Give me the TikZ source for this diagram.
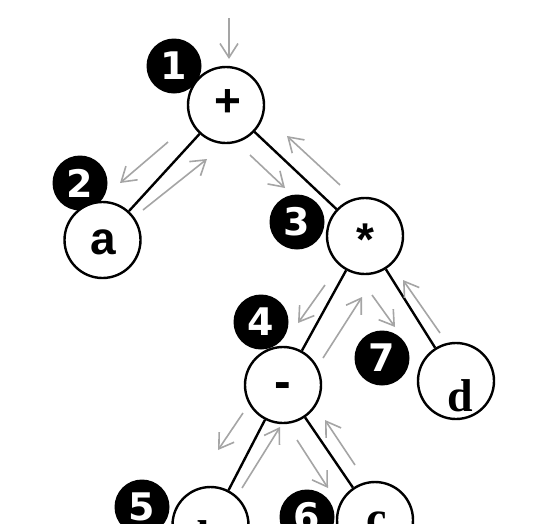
\documentclass[tikz,border=0pt]{standalone}
\usepackage{fontspec}
\setmainfont{Liberation Serif}
\newfontfamily\symfont{Liberation Sans}
\newfontfamily\numfont{DejaVu Sans}
\usetikzlibrary{arrows.meta}
\definecolor{arrowgray}{RGB}{165,165,165}
\begin{document}
\begin{tikzpicture}[x=1pt,y=-1pt,
  vertex/.style={circle,draw=black,line width=2.4pt,fill=white,minimum size=76pt,inner sep=0pt},
  badge/.style={circle,fill=black,minimum size=55pt,inner sep=0pt,text=white,
    font=\numfont\bfseries\fontsize{38}{38}\selectfont},
  opsym/.style={inner sep=0pt,font=\symfont\bfseries\fontsize{46}{46}\selectfont},
  sanslbl/.style={inner sep=0pt,font=\symfont\bfseries\fontsize{46}{46}\selectfont},
  seriflbl/.style={inner sep=0pt,font=\bfseries\fontsize{46}{46}\selectfont},
  edge/.style={line width=2.4pt},
  flow/.style={draw=arrowgray,line width=1.6pt,
    -{Straight Barb[length=14pt,width=18pt,line width=1.6pt]}}]
\useasboundingbox (0,0) rectangle (548,523);
\clip (0,0) rectangle (548,523);
\fill[white] (0,0) rectangle (548,523);

% badges
\node[badge] (n1) at (174,66) {1};
\node[badge] (n2) at (80,183) {2};
\node[badge] (n3) at (297,222) {3};
\node[badge] (n4) at (261,322) {4};
\node[badge] (n5) at (142,507) {5};
\node[badge] (n6) at (307,517) {6};
\node[badge] (n7) at (382,358) {7};

% tree nodes
\node[vertex] (plus) at (226,105) {};
\node[vertex] (a) at (102.5,240) {};
\node[vertex] (times) at (365,236) {};
\node[vertex] (minus) at (283,385) {};
\node[vertex] (d) at (456,381) {};
\node[vertex] (b) at (210.5,525) {};
\node[vertex] (c) at (375,520) {};

% labels
\node[opsym] (lplus) at (228,103) {+};
\node[opsym] (ltimes) at (365,240) {*};
\node[opsym,font=\symfont\bfseries\fontsize{50}{50}\selectfont] (lminus) at (283,391) {-};
\node[sanslbl] (la) at (103,242.5) {a};
\node[seriflbl] (ld) at (460,396) {d};
\node[seriflbl] (lb) at (210,537) {b};
\node[seriflbl] (lc) at (377,523) {c};

% edges
\draw[edge] (plus) -- (a);
\draw[edge] (plus) -- (times);
\draw[edge] (times) -- (minus);
\draw[edge] (times) -- (d);
\draw[edge] (minus) -- (b);
\draw[edge] (minus) -- (c);

% traversal arrows
\coordinate (s0) at (229,18);   \coordinate (e0) at (229,59);
\coordinate (s1) at (168,142);  \coordinate (e1) at (120,183);
\coordinate (s2) at (143,210);  \coordinate (e2) at (207,159);
\coordinate (s3) at (250,155);  \coordinate (e3) at (285,188);
\coordinate (s4) at (340,185);  \coordinate (e4) at (287,136);
\coordinate (s5) at (325,285);  \coordinate (e5) at (298,323);
\coordinate (s6) at (323,358);  \coordinate (e6) at (362,297);
\coordinate (s7) at (372,295);  \coordinate (e7) at (395,327);
\coordinate (s8) at (440,333);  \coordinate (e8) at (403,280);
\coordinate (s9) at (243,413);  \coordinate (e9) at (218,450);
\coordinate (s10) at (242,488); \coordinate (e10) at (280,427);
\coordinate (s11) at (297,440); \coordinate (e11) at (328,488);
\coordinate (s12) at (355,465); \coordinate (e12) at (325,420);
\foreach \i in {0,...,12} {\draw[flow] (s\i) -- (e\i);}
\end{tikzpicture}
\end{document}
